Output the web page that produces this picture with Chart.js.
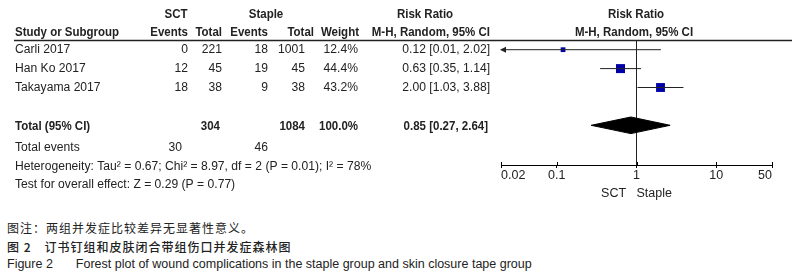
<!DOCTYPE html>
<html>
<head>
<meta charset="utf-8">
<script src="https://cdn.jsdelivr.net/npm/chart.js@4.4.1/dist/chart.umd.min.js"></script>
<style>
  html, body { margin: 0; padding: 0; background: #fff; }
  #wrap { position: relative; width: 792px; height: 279px; overflow: hidden; }
  #forest { position: absolute; left: 0; top: 0; }
  .cap { position: absolute; left: 7px; white-space: pre; color: #222; line-height: 16px; }
  .cn { font-family: "Noto Sans CJK SC", sans-serif; font-size: 12px; letter-spacing: 1px; }
  .en { font-family: "Liberation Sans", Arial, sans-serif; font-size: 12.5px; }
</style>
</head>
<body>
<div id="wrap">
  <canvas id="forest" width="792" height="205"></canvas>
  <div class="cap cn" style="top:220px">图注：两组并发症比较差异无显著性意义。</div>
  <div class="cap cn" style="top:239px;font-weight:500">图 2<span style="margin-left:13px">订书钉组和皮肤闭合带组伤口并发症森林图</span></div>
  <div class="cap en" style="top:256px">Figure 2<span style="margin-left:23px">Forest plot of wound complications in the staple group and skin closure tape group</span></div>
</div>
<script>
// study data
const studies = ['Carli 2017', 'Han Ko 2017', 'Takayama 2017'];
const sctEvents = [0, 12, 18];
const sctTotal = [221, 45, 38];
const stapleEvents = [18, 19, 9];
const stapleTotal = [1001, 45, 38];
const weights = [12.4, 44.4, 43.2];
const riskRatio = [0.12, 0.63, 2.00];
const ciLow = [0.01, 0.35, 1.03];
const ciHigh = [2.02, 1.14, 3.88];

// pooled result
const totalSct = 304;
const totalStaple = 1084;
const totalWeight = 100.0;
const pooledRR = 0.85;
const pooledLow = 0.27;
const pooledHigh = 2.64;
const totalEventsSct = 30;
const totalEventsStaple = 46;
const heterogeneity = 'Heterogeneity: Tau\u00b2 = 0.67; Chi\u00b2 = 8.97, df = 2 (P = 0.01); I\u00b2 = 78%';
const overallEffect = 'Test for overall effect: Z = 0.29 (P = 0.77)';

const xTicks = [0.02, 0.1, 1, 10, 50];
const axisLabels = ['SCT', 'Staple'];

// row positions on the y scale
const TOTAL_ROW = 4.05;
const EVENTS_ROW = 5.2;
const HET_ROW = 6.2;
const TEST_ROW = 7.15;

const ciText = (m, lo, hi) => `${m.toFixed(2)} [${lo.toFixed(2)}, ${hi.toFixed(2)}]`;

// column anchors (right edges unless noted)
const col = { name: 15, sctEv: 188, sctTot: 222, stEv: 268, stTot: 305, weight: 358, ci: 490 };

function txt(ctx, text, x, y, align, bold) {
    ctx.save();
    ctx.font = (bold ? 'bold ' : '') + '12.5px "Liberation Sans", Arial, sans-serif';
    ctx.fillStyle = '#222';
    ctx.textBaseline = 'middle';
    ctx.textAlign = align;
    ctx.translate(x, y);
    ctx.scale(bold ? 0.92 : 0.97, 1);
    ctx.fillText(text, 0, 0);
    ctx.restore();
}

const tablePlugin = {
    id: 'forestTable',
    afterDraw(chart) {
        const ctx = chart.ctx;
        const y = chart.scales.y;
        const x = chart.scales.x;
        const area = chart.chartArea;

        // header
        txt(ctx, 'SCT', 176, 15, 'center', true);
        txt(ctx, 'Staple', 266, 15, 'center', true);
        txt(ctx, 'Risk Ratio', 425, 15, 'center', true);
        txt(ctx, 'Risk Ratio', 636, 15, 'center', true);
        txt(ctx, 'Study or Subgroup', col.name, 33, 'left', true);
        txt(ctx, 'Events', col.sctEv, 33, 'right', true);
        txt(ctx, 'Total', col.sctTot, 33, 'right', true);
        txt(ctx, 'Events', col.stEv, 33, 'right', true);
        txt(ctx, 'Total', 314, 33, 'right', true);
        txt(ctx, 'Weight', 359, 33, 'right', true);
        txt(ctx, 'M-H, Random, 95% CI', col.ci, 33, 'right', true);
        txt(ctx, 'M-H, Random, 95% CI', 634, 33, 'center', true);

        ctx.save();
        ctx.strokeStyle = '#222';
        ctx.lineWidth = 1.5;
        ctx.beginPath();
        ctx.moveTo(14, 40.5);
        ctx.lineTo(792, 40.5);
        ctx.stroke();
        ctx.restore();

        // study rows
        studies.forEach((s, i) => {
            const py = y.getPixelForValue(i);
            txt(ctx, s, col.name, py, 'left');
            txt(ctx, String(sctEvents[i]), col.sctEv, py, 'right');
            txt(ctx, String(sctTotal[i]), col.sctTot, py, 'right');
            txt(ctx, String(stapleEvents[i]), col.stEv, py, 'right');
            txt(ctx, String(stapleTotal[i]), col.stTot, py, 'right');
            txt(ctx, weights[i].toFixed(1) + '%', col.weight, py, 'right');
            txt(ctx, ciText(riskRatio[i], ciLow[i], ciHigh[i]), col.ci, py, 'right');

            // arrow when CI runs off the scale
            if (ciLow[i] < x.min) {
                ctx.save();
                ctx.fillStyle = '#222';
                ctx.beginPath();
                ctx.moveTo(area.left - 1, py);
                ctx.lineTo(area.left + 5, py - 3);
                ctx.lineTo(area.left + 5, py + 3);
                ctx.closePath();
                ctx.fill();
                ctx.restore();
            }
        });

        // total rows
        const ty = y.getPixelForValue(TOTAL_ROW);
        txt(ctx, 'Total (95% CI)', col.name, ty, 'left', true);
        txt(ctx, String(totalSct), 220, ty, 'right', true);
        txt(ctx, String(totalStaple), col.stTot, ty, 'right', true);
        txt(ctx, totalWeight.toFixed(1) + '%', col.weight, ty, 'right', true);
        txt(ctx, ciText(pooledRR, pooledLow, pooledHigh), 488, ty, 'right', true);

        const ey = y.getPixelForValue(EVENTS_ROW);
        txt(ctx, 'Total events', col.name, ey, 'left');
        txt(ctx, String(totalEventsSct), 182, ey, 'right');
        txt(ctx, String(totalEventsStaple), col.stEv, ey, 'right');

        txt(ctx, heterogeneity, col.name, y.getPixelForValue(HET_ROW), 'left');
        txt(ctx, overallEffect, col.name, y.getPixelForValue(TEST_ROW), 'left');

        // tick marks above the axis line
        ctx.save();
        ctx.strokeStyle = '#000';
        ctx.lineWidth = 1;
        xTicks.forEach(v => {
            const px = Math.round(x.getPixelForValue(v)) + 0.5;
            ctx.beginPath();
            ctx.moveTo(px, area.bottom - 3);
            ctx.lineTo(px, area.bottom);
            ctx.stroke();
        });
        ctx.restore();
    }
};

const datasets = [];

// confidence interval lines
studies.forEach((s, i) => {
    datasets.push({
        label: s + ' CI',
        data: [{ x: ciLow[i], y: i }, { x: ciHigh[i], y: i }],
        showLine: true,
        borderColor: '#222',
        borderWidth: 1,
        pointRadius: 0
    });
});

// weighted squares
datasets.push({
    label: 'Risk ratio',
    data: riskRatio.map((v, i) => ({ x: v, y: i })),
    pointStyle: 'rect',
    pointRadius: weights.map(w => Math.sqrt(w) * 0.955),
    backgroundColor: '#0000aa',
    borderWidth: 0
});

// pooled diamond
const dh = 0.44;
const dy = TOTAL_ROW - 0.05;
datasets.push({
    label: 'Total',
    data: [
        { x: pooledLow, y: dy },
        { x: pooledRR, y: dy - dh },
        { x: pooledHigh, y: dy },
        { x: pooledRR, y: dy + dh },
        { x: pooledLow, y: dy }
    ],
    showLine: true,
    fill: 'shape',
    backgroundColor: '#000',
    borderColor: '#000',
    borderWidth: 1,
    pointRadius: 0
});

new Chart(document.getElementById('forest').getContext('2d'), {
    type: 'scatter',
    data: { datasets: datasets },
    options: {
        responsive: false,
        animation: false,
        events: [],
        layout: {
            autoPadding: false,
            padding: { left: 501, right: 20, top: 41, bottom: 0 }
        },
        plugins: {
            legend: { display: false },
            tooltip: { enabled: false }
        },
        scales: {
            x: {
                type: 'logarithmic',
                min: 0.02,
                max: 50,
                afterBuildTicks: scale => {
                    scale.ticks = xTicks.map(v => ({ value: v }));
                },
                afterFit: scale => {
                    scale.height = 40;
                },
                ticks: {
                    align: 'inner',
                    padding: 0,
                    color: '#222',
                    font: { family: '"Liberation Sans", Arial, sans-serif', size: 12.5 },
                    callback: value => String(value)
                },
                grid: {
                    color: c => (c.tick && c.tick.value === 1 ? '#222' : 'rgba(0,0,0,0)'),
                    tickColor: '#000',
                    tickLength: 3,
                    drawTicks: true
                },
                border: { display: true, color: '#000', width: 1 },
                title: {
                    display: true,
                    text: axisLabels.join('   '),
                    color: '#222',
                    font: { family: '"Liberation Sans", Arial, sans-serif', size: 12.5 },
                    padding: { top: 0, bottom: 4 }
                }
            },
            y: {
                type: 'linear',
                display: false,
                reverse: true,
                min: -0.46,
                max: 6.1
            }
        }
    },
    plugins: [tablePlugin]
});
</script>
</body>
</html>
